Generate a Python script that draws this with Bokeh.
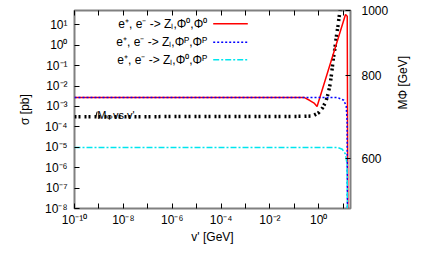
import math
from bokeh.plotting import figure
from bokeh.models import (LogAxis, LinearAxis, Range1d, FixedTicker, Label, Arrow)
from bokeh.embed import file_html
from bokeh.resources import INLINE

# ---- data ----
# sigma(e+ e- -> Z_L Phi0 Phi0)
x_red = [1e-10, 0.26, 0.42, 0.67, 0.855, 12.5, 14.7, 15.6]
y_red = [2.7e-3, 2.7e-3, 2.0e-3, 1.4e-3, 1.0e-3, 31.6, 26.0, 1e-9]
# sigma(e+ e- -> Z_L PhiP PhiP)
x_blue = [1e-10, 5.8, 10.7, 13.4, 14.5, 15.0]
y_blue = [2.75e-3, 2.75e-3, 2.0e-3, 1.0e-3, 2e-4, 1e-9]
# sigma(e+ e- -> Z_L Phi0 PhiP)
x_cyan = [1e-10, 5.8, 9.2, 12.5, 14.5, 15.2]
y_cyan = [9.8e-6, 9.8e-6, 8e-6, 4.6e-6, 1.5e-6, 1e-9]
# M_Phi vs v' (right axis)
x_mphi = [1e-10, 0.23, 0.57, 1.0, 1.45, 1.97, 2.43, 2.93, 3.33, 3.66, 4.01, 4.52, 4.96, 5.45,
          6.14, 6.73, 7.39, 8.0]
m_phi = [693, 694, 695, 703, 715, 731, 751, 775, 802, 826, 850, 874, 898, 921,
         949, 973, 998, 1020]

legend_labels = ["e\u207a, e\u207b -> Z\u2097,\u03a6\u2070,\u03a6\u2070",
                 "e\u207a, e\u207b -> Z\u2097,\u03a6\u1d3e,\u03a6\u1d3e",
                 "e\u207a, e\u207b -> Z\u2097,\u03a6\u2070,\u03a6\u1d3e"]

x_ticks = [1e-10, 1e-8, 1e-6, 1e-4, 1e-2, 1e0]
x_minor = [1e-9, 1e-7, 1e-5, 1e-3, 1e-1, 1e1]
x_tick_labels = ["10\u207b\u00b9\u2070", "10\u207b\u2078", "10\u207b\u2076", "10\u207b\u2074", "10\u207b\u00b2", "10\u2070"]
y_ticks = [1e-8, 1e-7, 1e-6, 1e-5, 1e-4, 1e-3, 1e-2, 1e-1, 1e0, 1e1]
y_tick_labels = ["10\u207b\u2078", "10\u207b\u2077", "10\u207b\u2076", "10\u207b\u2075", "10\u207b\u2074",
                 "10\u207b\u00b3", "10\u207b\u00b2", "10\u207b\u00b9", "10\u2070", "10\u00b9"]
y2_ticks = [600, 800, 1000]

FONT = "Liberation Sans"

p = figure(width=420, height=246, x_axis_type="log", y_axis_type="log",
           x_range=Range1d(1e-10, 20), y_range=Range1d(1e-8, 50),
           output_backend="svg", toolbar_location=None,
           min_border_left=74, min_border_right=65, min_border_top=10, min_border_bottom=37)
p.extra_y_ranges = {"m": Range1d(505, 1000)}
p.xgrid.visible = False
p.ygrid.visible = False
p.outline_line_color = "#808080"
p.outline_line_width = 2
p.background_fill_color = "white"
p.border_fill_color = "white"

def style_axis(ax):
    ax.axis_line_color = None
    ax.major_tick_in = 5
    ax.major_tick_out = 0
    ax.minor_tick_in = 5
    ax.minor_tick_out = 0
    ax.major_tick_line_color = "black"
    ax.minor_tick_line_color = "black"
    ax.major_label_text_font = FONT
    ax.major_label_text_font_size = "12px"
    ax.major_label_text_color = "black"
    ax.axis_label_text_font = FONT
    ax.axis_label_text_font_size = "12px"
    ax.axis_label_text_font_style = "normal"
    ax.axis_label_text_color = "black"

xa = p.xaxis[0]
style_axis(xa)
xa.ticker = FixedTicker(ticks=x_ticks, minor_ticks=x_minor)
xa.major_label_overrides = dict(zip(x_ticks, x_tick_labels))
xa.major_label_standoff = 4
xa.axis_label = "v' [GeV]"
xa.axis_label_standoff = 0

ya = p.yaxis[0]
style_axis(ya)
ya.ticker = FixedTicker(ticks=y_ticks, minor_ticks=[])
ya.major_label_overrides = dict(zip(y_ticks, y_tick_labels))
ya.major_label_standoff = 7
ya.minor_tick_in = 0
ya.axis_label = "\u03c3 [pb]"
ya.axis_label_standoff = 10

top = LogAxis(ticker=FixedTicker(ticks=x_ticks, minor_ticks=x_minor))
style_axis(top)
top.major_label_text_font_size = "1px"
top.major_label_text_color = None
top.major_label_standoff = 0
p.add_layout(top, "above")

right = LinearAxis(y_range_name="m", ticker=FixedTicker(ticks=y2_ticks, minor_ticks=[]))
style_axis(right)
right.minor_tick_in = 0
right.major_label_standoff = 11
right.axis_label = "M\u03a6 [GeV]"
right.axis_label_standoff = 12
right.axis_label_orientation = math.pi / 2
p.add_layout(right, "right")

# ---- curves ----
p.line(x_mphi, m_phi, y_range_name="m", line_color="black", line_width=3.5, line_dash="2 2 2 4")
p.line(x_red, y_red, line_color="#ff0000", line_width=1.5)
p.line(x_blue, y_blue, line_color="#0000ff", line_width=1.5, line_dash="2 2")
p.line(x_cyan, y_cyan, line_color="#00e5ee", line_width=1.5, line_dash="6 2 2 2")

# ---- legend (gnuplot style: text right-aligned, sample to the right) ----
leg_colors = ["#ff0000", "#0000ff", "#00e5ee"]
leg_dash = ["solid", "2 2", "6 2 2 2"]
leg_y = [184.7, 166.3, 148.7]
for lab, col, dsh, yy in zip(legend_labels, leg_colors, leg_dash, leg_y):
    p.add_layout(Label(x=132.7, y=yy, x_units="screen", y_units="screen", text=lab,
                       text_align="right", text_baseline="middle",
                       text_font=FONT, text_font_size="12px", text_color="black"))
    p.add_layout(Arrow(end=None, x_start=138.7, y_start=yy, x_end=173.3, y_end=yy,
                       start_units="screen", end_units="screen",
                       line_color=col, line_width=1.5, line_dash=dsh))

# ---- "M_Phi vs v'" label ----
p.add_layout(Label(x=22.7, y=93.6, x_units="screen", y_units="screen", text="M",
                   text_align="left", text_baseline="middle", text_font=FONT,
                   text_font_size="11px", text_color="black"))
p.add_layout(Label(x=31.8, y=91.1, x_units="screen", y_units="screen", text="\u03a6",
                   text_align="left", text_baseline="middle", text_font=FONT,
                   text_font_size="8px", text_color="black"))
p.add_layout(Label(x=38.5, y=93.6, x_units="screen", y_units="screen", text="vs v'",
                   text_align="left", text_baseline="middle", text_font=FONT,
                   text_font_size="11px", text_color="black"))
p.add_layout(Arrow(end=None, x_start=21, y_start=90.9, x_end=22.7, y_end=96.9,
                   start_units="screen", end_units="screen", line_color="black", line_width=1))

open("out.html", "w").write(file_html(p, INLINE))
